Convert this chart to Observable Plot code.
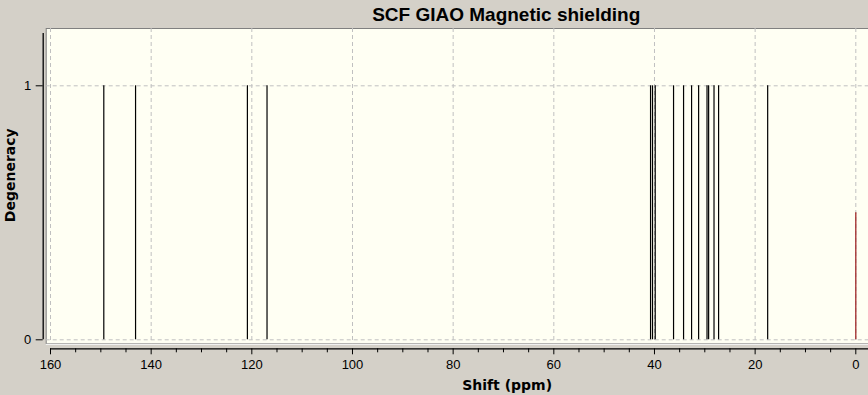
<!DOCTYPE html>
<html>
<head>
<meta charset="utf-8">
<script src="https://cdn.jsdelivr.net/npm/d3@7"></script>
<script src="https://cdn.jsdelivr.net/npm/@observablehq/plot@0.6"></script>
<style>
  html, body { margin: 0; padding: 0; background: #d4d0c8; }
  #chart svg { display: block; }
</style>
</head>
<body>
<div id="chart"></div>
<script>
// Peak shifts (ppm) and degeneracies
const shifts = [149.41, 143.10, 120.88, 116.98, 40.78, 40.39, 39.85, 36.21, 34.22, 32.63, 31.23, 29.56, 29.24, 28.17, 27.26, 17.51];
const degeneracy = [1, 1, 1, 1, 1, 1, 1, 1, 1, 1, 1, 1, 1, 1, 1, 1];
// Reference marker (red) at 0 ppm
const refShifts = [0];
const refHeights = [0.5];
// Axis ticks
const xMajorTicks = [0, 20, 40, 60, 80, 100, 120, 140, 160];
const xMinorTicks = [5, 10, 15, 25, 30, 35, 45, 50, 55, 65, 70, 75, 85, 90, 95, 105, 110, 115, 125, 130, 135, 145, 150, 155];
const yTicks = [0, 1];
const yGrid = [0, 1];
const titleText = "SCF GIAO Magnetic shielding";
const xLabel = "Shift (ppm)";
const yLabel = "Degeneracy";

const peaks = shifts.map((s, i) => ({shift: s, deg: degeneracy[i]}));
const refs = refShifts.map((s, i) => ({shift: s, deg: refHeights[i]}));

const cream = "#fffff3";
const gridColor = "#c0c0c0";
const font = "'Liberation Sans', Arial, sans-serif";
const labelFont = "'DejaVu Sans', Verdana, sans-serif";

const chart = Plot.plot({
  width: 868,
  height: 395,
  marginLeft: 50,
  marginRight: 12.7,
  marginTop: 28,
  marginBottom: 55.7,
  x: {domain: [0, 160], reverse: true},
  y: {domain: [0, 1.2256]},
  style: {background: "#d4d0c8", fontFamily: font, fontSize: "13px", color: "#000", overflow: "hidden"},
  marks: [
    Plot.frame({fill: cream, stroke: "#808080", insetLeft: -4.3, insetRight: -20, insetBottom: -4}),
    Plot.ruleY([0], {dy: 4.5, stroke: "#ffffff", strokeWidth: 1, insetLeft: -4.3, insetRight: -20}),
    Plot.ruleX(xMajorTicks, {stroke: gridColor, strokeDasharray: "4,3", insetBottom: -4}),
    Plot.ruleY(yGrid, {stroke: gridColor, strokeDasharray: "4,3", insetLeft: -4.3, insetRight: -20}),
    Plot.ruleX(peaks, {x: "shift", y1: 0, y2: "deg", stroke: "#000", strokeWidth: 1.2}),
    Plot.ruleX(refs, {x: "shift", y1: 0, y2: "deg", stroke: "#a02828", strokeWidth: 1.3}),
    // x axis line
    Plot.ruleY([0], {dy: 9, stroke: "#000", strokeWidth: 1.3, insetRight: -20}),
    Plot.axisX(xMajorTicks, {tickSize: 6, tickPadding: 5, dy: 9, label: null, fontSize: 13, stroke: "#000", fill: "#000", tickFormat: d => String(d)}),
    Plot.axisX(xMinorTicks, {tickSize: 4, text: null, dy: 9, label: null, stroke: "#000"}),
    // y axis line
    Plot.ruleX([160], {dx: -7.3, stroke: "#000", strokeWidth: 1.3, insetTop: 5}),
    Plot.axisY(yTicks, {tickSize: 7, tickPadding: 5, dx: -7.3, label: null, fontSize: 13, stroke: "#000", fill: "#000", tickFormat: d => String(d)}),
    // titles
    Plot.text([titleText], {frameAnchor: "top", textAnchor: "start", lineAnchor: "middle", dx: -81, dy: -14, fontSize: 19, fontWeight: "bold", fill: "#000"}),
    Plot.text([xLabel], {frameAnchor: "bottom", textAnchor: "start", lineAnchor: "middle", dx: 9, dy: 45.5, fontSize: 14, fontFamily: labelFont, fontWeight: "bold", fill: "#000"}),
    Plot.text([yLabel], {frameAnchor: "left", rotate: -90, textAnchor: "start", lineAnchor: "middle", dx: -40, dy: 38, fontSize: 14, fontFamily: labelFont, fontWeight: "bold", fill: "#000"})
  ]
});
document.getElementById("chart").append(chart);
</script>
</body>
</html>
